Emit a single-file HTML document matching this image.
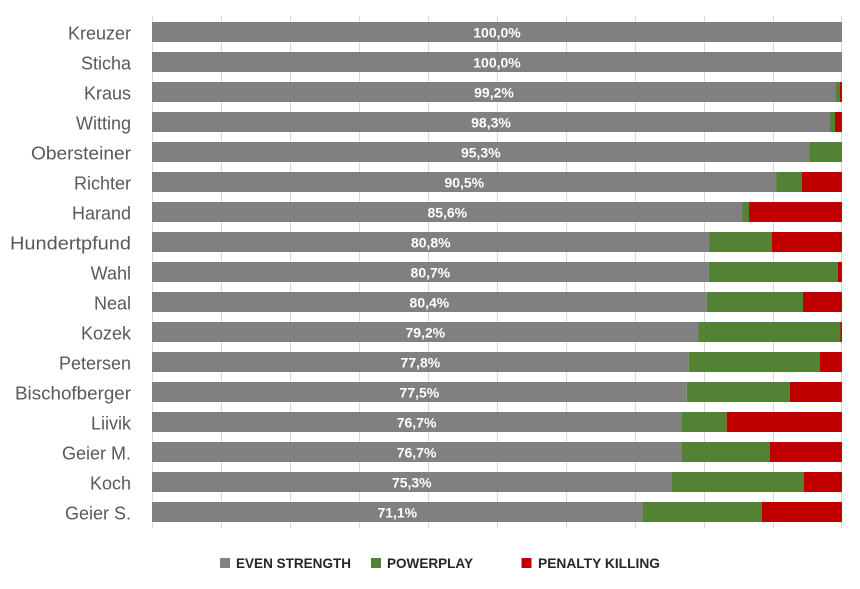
<!DOCTYPE html>
<html>
<head>
<meta charset="utf-8">
<style>
  html,body{margin:0;padding:0;background:#fff;}
  svg{display:block;}
  .lbl{font-family:"Liberation Sans",Arial,sans-serif;font-size:18px;fill:#595959;}
  .val{font-family:"Liberation Sans",Arial,sans-serif;font-size:14px;font-weight:bold;fill:#fff;}
  .leg{font-family:"Liberation Sans",Arial,sans-serif;font-size:14px;font-weight:bold;fill:#262626;}
</style>
</head>
<body>
<svg width="860" height="589" viewBox="0 0 860 589" xmlns="http://www.w3.org/2000/svg">
  <rect width="860" height="589" fill="#fff"/>
  <!-- gridlines -->
  <g stroke="#d9d9d9" stroke-width="1">
    <line x1="152.5" y1="16" x2="152.5" y2="528"/>
    <line x1="221.5" y1="16" x2="221.5" y2="528"/>
    <line x1="290.5" y1="16" x2="290.5" y2="528"/>
    <line x1="359.5" y1="16" x2="359.5" y2="528"/>
    <line x1="428.5" y1="16" x2="428.5" y2="528"/>
    <line x1="497.5" y1="16" x2="497.5" y2="528"/>
    <line x1="566.5" y1="16" x2="566.5" y2="528"/>
    <line x1="635.5" y1="16" x2="635.5" y2="528"/>
    <line x1="704.5" y1="16" x2="704.5" y2="528"/>
    <line x1="773.5" y1="16" x2="773.5" y2="528"/>
    <line x1="841.5" y1="16" x2="841.5" y2="528"/>
  </g>

  <!-- bars -->
  <g>
    <rect x="152" y="22" width="690" height="20" fill="#808080"/>
    <rect x="152" y="52" width="690" height="20" fill="#808080"/>
    <rect x="152" y="82" width="684" height="20" fill="#808080"/>
    <rect x="836" y="82" width="4" height="20" fill="#548235"/>
    <rect x="840" y="82" width="2" height="20" fill="#c00000"/>
    <rect x="152" y="112" width="678" height="20" fill="#808080"/>
    <rect x="830" y="112" width="5" height="20" fill="#548235"/>
    <rect x="835" y="112" width="7" height="20" fill="#c00000"/>
    <rect x="152" y="142" width="657.5" height="20" fill="#808080"/>
    <rect x="809.5" y="142" width="32.5" height="20" fill="#548235"/>
    <rect x="152" y="172" width="624.5" height="20" fill="#808080"/>
    <rect x="776.5" y="172" width="25.5" height="20" fill="#548235"/>
    <rect x="802" y="172" width="40" height="20" fill="#c00000"/>
    <rect x="152" y="202" width="590.5" height="20" fill="#808080"/>
    <rect x="742.5" y="202" width="6.5" height="20" fill="#548235"/>
    <rect x="749" y="202" width="93" height="20" fill="#c00000"/>
    <rect x="152" y="232" width="557.5" height="20" fill="#808080"/>
    <rect x="709.5" y="232" width="62.5" height="20" fill="#548235"/>
    <rect x="772" y="232" width="70" height="20" fill="#c00000"/>
    <rect x="152" y="262" width="556.8" height="20" fill="#808080"/>
    <rect x="708.8" y="262" width="129.2" height="20" fill="#548235"/>
    <rect x="838" y="262" width="4" height="20" fill="#c00000"/>
    <rect x="152" y="292" width="554.8" height="20" fill="#808080"/>
    <rect x="706.8" y="292" width="96.2" height="20" fill="#548235"/>
    <rect x="803" y="292" width="39" height="20" fill="#c00000"/>
    <rect x="152" y="322" width="546.5" height="20" fill="#808080"/>
    <rect x="698.5" y="322" width="142" height="20" fill="#548235"/>
    <rect x="840.5" y="322" width="1.5" height="20" fill="#c00000"/>
    <rect x="152" y="352" width="536.8" height="20" fill="#808080"/>
    <rect x="688.8" y="352" width="131.2" height="20" fill="#548235"/>
    <rect x="820" y="352" width="22" height="20" fill="#c00000"/>
    <rect x="152" y="382" width="534.8" height="20" fill="#808080"/>
    <rect x="686.8" y="382" width="103.2" height="20" fill="#548235"/>
    <rect x="790" y="382" width="52" height="20" fill="#c00000"/>
    <rect x="152" y="412" width="529.2" height="20" fill="#808080"/>
    <rect x="681.2" y="412" width="45.5" height="20" fill="#548235"/>
    <rect x="726.7" y="412" width="115.3" height="20" fill="#c00000"/>
    <rect x="152" y="442" width="529.2" height="20" fill="#808080"/>
    <rect x="681.2" y="442" width="88.8" height="20" fill="#548235"/>
    <rect x="770" y="442" width="72" height="20" fill="#c00000"/>
    <rect x="152" y="472" width="519.6" height="20" fill="#808080"/>
    <rect x="671.6" y="472" width="132.4" height="20" fill="#548235"/>
    <rect x="804" y="472" width="38" height="20" fill="#c00000"/>
    <rect x="152" y="502" width="490.6" height="20" fill="#808080"/>
    <rect x="642.6" y="502" width="119.4" height="20" fill="#548235"/>
    <rect x="762" y="502" width="80" height="20" fill="#c00000"/>
  </g>

  <!-- category labels -->
  <g class="lbl" text-anchor="end">
    <text x="131" y="39.3">Kreuzer</text>
    <text x="131" y="69.3">Sticha</text>
    <text x="131" y="99.3">Kraus</text>
    <text x="131" y="129.3">Witting</text>
    <text x="131" y="159.3" textLength="100" lengthAdjust="spacingAndGlyphs">Obersteiner</text>
    <text x="131" y="189.3">Richter</text>
    <text x="131" y="219.3">Harand</text>
    <text x="131" y="249.3" textLength="121" lengthAdjust="spacingAndGlyphs">Hundertpfund</text>
    <text x="131" y="279.3">Wahl</text>
    <text x="131" y="309.3">Neal</text>
    <text x="131" y="339.3">Kozek</text>
    <text x="131" y="369.3">Petersen</text>
    <text x="131" y="399.3" textLength="116" lengthAdjust="spacingAndGlyphs">Bischofberger</text>
    <text x="131" y="429.3">Liivik</text>
    <text x="131" y="459.3">Geier M.</text>
    <text x="131" y="489.3">Koch</text>
    <text x="131" y="519.3">Geier S.</text>
  </g>

  <!-- value labels -->
  <g class="val" text-anchor="middle">
    <text x="497" y="37.5">100,0%</text>
    <text x="497" y="67.5">100,0%</text>
    <text x="494" y="97.5">99,2%</text>
    <text x="491" y="127.5">98,3%</text>
    <text x="480.8" y="157.5">95,3%</text>
    <text x="464.3" y="187.5">90,5%</text>
    <text x="447.3" y="217.5">85,6%</text>
    <text x="430.8" y="247.5">80,8%</text>
    <text x="430.4" y="277.5">80,7%</text>
    <text x="429.4" y="307.5">80,4%</text>
    <text x="425.3" y="337.5">79,2%</text>
    <text x="420.4" y="367.5">77,8%</text>
    <text x="419.4" y="397.5">77,5%</text>
    <text x="416.6" y="427.5">76,7%</text>
    <text x="416.6" y="457.5">76,7%</text>
    <text x="411.8" y="487.5">75,3%</text>
    <text x="397.3" y="517.5">71,1%</text>
  </g>

  <!-- legend -->
  <rect x="220" y="558" width="10" height="10" fill="#808080"/>
  <text class="leg" x="236" y="568" textLength="115" lengthAdjust="spacingAndGlyphs">EVEN STRENGTH</text>
  <rect x="371" y="558" width="10" height="10" fill="#548235"/>
  <text class="leg" x="387" y="568" textLength="86" lengthAdjust="spacingAndGlyphs">POWERPLAY</text>
  <rect x="521.5" y="558" width="10" height="10" fill="#c00000"/>
  <text class="leg" x="538" y="568" textLength="122" lengthAdjust="spacingAndGlyphs">PENALTY KILLING</text>
</svg>
</body>
</html>
